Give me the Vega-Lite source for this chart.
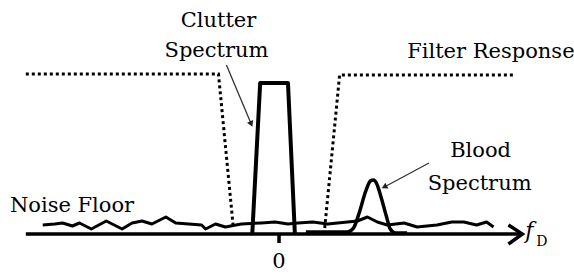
{
  "$schema": "https://vega.github.io/schema/vega-lite/v6.json",
  "width": 574,
  "height": 274,
  "autosize": {"type": "fit", "contains": "padding"},
  "padding": 0,
  "background": "white",
  "config": {"view": {"stroke": null}},
  "datasets": {
    "filter": [
      {"seg": "L", "f": -254, "amp": 160},
      {"seg": "L", "f": -60, "amp": 160},
      {"seg": "L", "f": -45, "amp": 6},
      {"seg": "R", "f": 47, "amp": 6},
      {"seg": "R", "f": 62, "amp": 159},
      {"seg": "R", "f": 238, "amp": 159}
    ],
    "clutter": [
      {"f": -26, "amp": -1},
      {"f": -18, "amp": 151},
      {"f": 10, "amp": 151},
      {"f": 17, "amp": -1}
    ],
    "blood": [
      {"f": 28, "amp": 2},
      {"f": 70, "amp": 2},
      {"f": 76, "amp": 6},
      {"f": 82, "amp": 22},
      {"f": 88, "amp": 42},
      {"f": 93, "amp": 53},
      {"f": 96, "amp": 54},
      {"f": 99, "amp": 51},
      {"f": 104, "amp": 36},
      {"f": 109, "amp": 18},
      {"f": 113, "amp": 5},
      {"f": 118, "amp": 1},
      {"f": 130, "amp": 1}
    ],
    "noise": [
      {"f": -237, "amp": 9}, {"f": -225, "amp": 10}, {"f": -217, "amp": 11},
      {"f": -207, "amp": 8}, {"f": -200, "amp": 11}, {"f": -188, "amp": 5},
      {"f": -173, "amp": 13}, {"f": -157, "amp": 5}, {"f": -147, "amp": 11},
      {"f": -137, "amp": 13}, {"f": -127, "amp": 10}, {"f": -113, "amp": 17},
      {"f": -103, "amp": 11}, {"f": -90, "amp": 10}, {"f": -77, "amp": 9},
      {"f": -73, "amp": 5}, {"f": -63, "amp": 10}, {"f": -53, "amp": 7},
      {"f": -37, "amp": 10}, {"f": -17, "amp": 11}, {"f": -3, "amp": 12},
      {"f": 10, "amp": 10}, {"f": 20, "amp": 11}, {"f": 35, "amp": 12},
      {"f": 50, "amp": 10}, {"f": 70, "amp": 12}, {"f": 80, "amp": 13},
      {"f": 90, "amp": 17}, {"f": 100, "amp": 12}, {"f": 110, "amp": 9},
      {"f": 127, "amp": 11}, {"f": 140, "amp": 7}, {"f": 160, "amp": 9},
      {"f": 175, "amp": 12}, {"f": 187, "amp": 12}, {"f": 200, "amp": 9},
      {"f": 210, "amp": 12}, {"f": 217, "amp": 7}
    ],
    "axis": [
      {"seg": "shaft", "f": -254, "amp": 0},
      {"seg": "shaft", "f": 244, "amp": 0},
      {"seg": "head", "f": 232, "amp": 9},
      {"seg": "head", "f": 246, "amp": 0},
      {"seg": "head", "f": 232, "amp": -10},
      {"seg": "tick", "f": 1, "amp": 0},
      {"seg": "tick", "f": 1, "amp": -9}
    ],
    "pointers": [
      {"f": -52, "amp": 169, "f2": -27, "amp2": 110, "angle": 156.5},
      {"f": 152, "amp": 71, "f2": 107, "amp2": 47, "angle": 242}
    ],
    "centered": [
      {"text": "Clutter", "f": -60, "amp": 207},
      {"text": "Spectrum", "f": -62, "amp": 177},
      {"text": "Blood", "f": 204, "amp": 77},
      {"text": "Spectrum", "f": 203, "amp": 44},
      {"text": "0", "f": 1, "amp": -34}
    ],
    "lefted": [
      {"text": "Filter Response", "f": 130, "amp": 176},
      {"text": "Noise Floor", "f": -270, "amp": 22}
    ]
  },
  "encoding": {
    "x": {"field": "f", "type": "quantitative", "scale": {"domain": [-280, 294], "nice": false, "zero": false}, "axis": null},
    "y": {"field": "amp", "type": "quantitative", "scale": {"domain": [-40, 234], "nice": false, "zero": false}, "axis": null}
  },
  "layer": [
    {
      "data": {"name": "filter"},
      "mark": {"type": "line", "color": "black", "strokeWidth": 3, "strokeDash": [3, 3], "strokeCap": "butt"},
      "encoding": {"detail": {"field": "seg"}, "order": {"field": "f", "type": "quantitative"}}
    },
    {
      "data": {"name": "noise"},
      "mark": {"type": "line", "color": "black", "strokeWidth": 3, "strokeJoin": "round"}
    },
    {
      "data": {"name": "clutter"},
      "mark": {"type": "line", "color": "black", "strokeWidth": 4, "strokeJoin": "round"}
    },
    {
      "data": {"name": "blood"},
      "mark": {"type": "line", "color": "black", "strokeWidth": 3.5, "interpolate": "monotone"}
    },
    {
      "data": {"name": "axis"},
      "mark": {"type": "line", "color": "black", "strokeWidth": 3.5, "strokeJoin": "miter"},
      "encoding": {"detail": {"field": "seg"}, "order": {"field": "amp", "type": "quantitative", "sort": "descending"}}
    },
    {
      "data": {"name": "pointers"},
      "mark": {"type": "rule", "color": "#333333", "strokeWidth": 1.3},
      "encoding": {"x2": {"field": "f2"}, "y2": {"field": "amp2"}}
    },
    {
      "data": {"name": "pointers"},
      "mark": {"type": "point", "shape": "triangle-up", "filled": true, "color": "#222222", "size": 45, "opacity": 1},
      "encoding": {
        "x": {"field": "f2", "type": "quantitative"},
        "y": {"field": "amp2", "type": "quantitative"},
        "angle": {"field": "angle", "type": "quantitative", "scale": null}
      }
    },
    {
      "data": {"name": "centered"},
      "mark": {"type": "text", "font": "DejaVu Serif", "fontSize": 21, "color": "black", "align": "center", "baseline": "alphabetic"},
      "encoding": {"text": {"field": "text"}}
    },
    {
      "data": {"name": "lefted"},
      "mark": {"type": "text", "font": "DejaVu Serif", "fontSize": 21, "color": "black", "align": "left", "baseline": "alphabetic"},
      "encoding": {"text": {"field": "text"}}
    },
    {
      "data": {"values": [{"t": "f", "f": 249, "amp": -4}]},
      "mark": {"type": "text", "font": "DejaVu Serif", "fontSize": 22, "fontStyle": "italic", "color": "black", "align": "left", "baseline": "alphabetic"},
      "encoding": {"text": {"field": "t"}}
    },
    {
      "data": {"values": [{"t": "D", "f": 260, "amp": -12}]},
      "mark": {"type": "text", "font": "DejaVu Serif", "fontSize": 14, "color": "black", "align": "left", "baseline": "alphabetic"},
      "encoding": {"text": {"field": "t"}}
    }
  ]
}
